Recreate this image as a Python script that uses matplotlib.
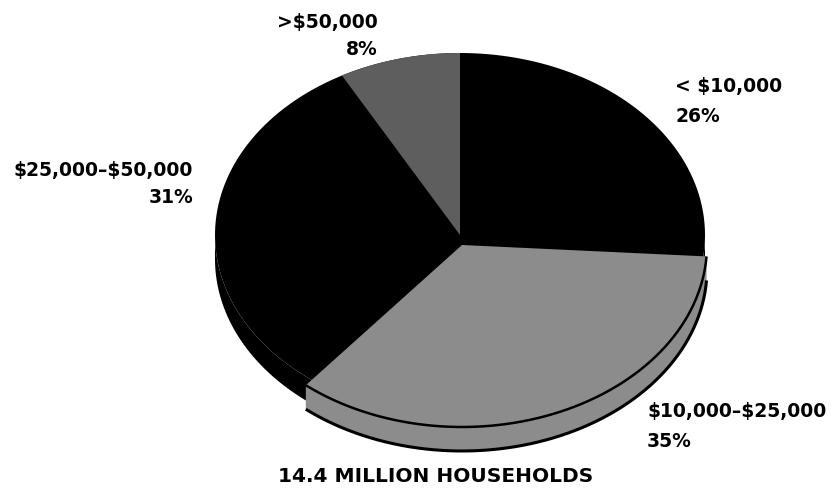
import numpy as np
import matplotlib.pyplot as plt
from matplotlib.patches import Polygon

# household income shares (percent), clockwise from 12 o'clock
labels = ['< $10,000', '$10,000–$25,000', '$25,000–$50,000', '>$50,000']
shares = [26, 35, 31, 8]
colors = ['black', '#8c8c8c', 'black', '#5e5e5e']
explode = [0, 1, 0, 0]
title = '14.4 MILLION HOUSEHOLDS'

# pie geometry in pixel space
cx, cy = 460, 235
rx, ry = 245, 182
depth = 24
shift = (2, 10)


def arc(t1, t2, dx=0, dy=0, n=200):
    t = np.radians(np.linspace(t1, t2, n))
    return np.column_stack([cx + dx + rx * np.cos(t), cy + dy - ry * np.sin(t)])


def side(t1, t2, dx=0, dy=0):
    # front wall of a slice between angles t1 > t2 (only the part facing the viewer)
    lo, hi = max(min(t1, t2), -180), min(max(t1, t2), 0)
    if lo >= hi:
        return None
    top = arc(hi, lo, dx, dy)
    bot = top + [0, depth]
    return np.vstack([top, bot[::-1]])


fig = plt.figure(figsize=(8.38, 4.93), dpi=100)
ax = fig.add_axes([0, 0, 1, 1])
ax.set_xlim(0, 838)
ax.set_ylim(493, 0)
ax.axis('off')

# whole body in black first (top face plus front wall)
ax.add_patch(Polygon(arc(0, 360), closed=True, fc='black', ec='none'))
ax.add_patch(Polygon(side(0, -180), closed=True, fc='black', ec='none'))

cum = np.cumsum([0] + shares)
angles = [(90 - 3.6 * cum[i], 90 - 3.6 * cum[i + 1]) for i in range(len(shares))]

for (t1, t2), col, ex in zip(angles, colors, explode):
    if col == 'black':
        continue
    dx, dy = shift if ex else (0, 0)
    wall = side(t1, t2, dx, dy)
    if wall is not None:
        ax.add_patch(Polygon(wall, closed=True, fc=col, ec='none'))
        front = arc(max(t1, t2), min(t1, t2), dx, dy)
        ax.plot(front[:, 0], front[:, 1] + depth, color='black', lw=2.2,
                solid_capstyle='butt')
    face = np.vstack([[cx + dx, cy + dy], arc(t1, t2, dx, dy)])
    ax.add_patch(Polygon(face, closed=True, fc=col, ec='none'))
    if wall is not None:
        ax.plot(front[:, 0], front[:, 1], color='black', lw=1.8,
                solid_capstyle='butt')

font = dict(family='DejaVu Sans', fontweight='bold', fontsize=13.5,
            color='black', parse_math=False)

ax.text(378, 28, labels[3], ha='right', va='baseline', **font)
ax.text(378, 55, f'{shares[3]}%', ha='right', va='baseline', **font)
ax.text(675, 92, labels[0], ha='left', va='baseline', **font)
ax.text(675, 122, f'{shares[0]}%', ha='left', va='baseline', **font)
ax.text(193, 176, labels[2], ha='right', va='baseline', **font)
ax.text(193, 203, f'{shares[2]}%', ha='right', va='baseline', **font)
ax.text(647, 417, labels[1], ha='left', va='baseline', **font)
ax.text(647, 447, f'{shares[1]}%', ha='left', va='baseline', **font)

ax.text(436, 482, title, ha='center', va='baseline', family='DejaVu Sans',
        fontweight='heavy', fontsize=14.5)

fig.savefig('out.png', dpi=100)
